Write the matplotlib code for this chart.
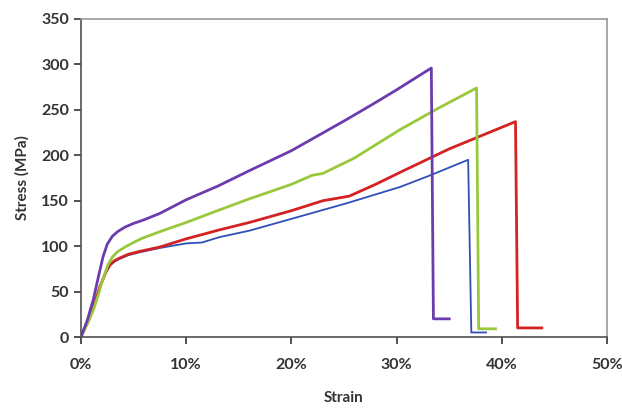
import matplotlib.pyplot as plt
from matplotlib.ticker import FuncFormatter

# strain in %, stress in MPa
purple_strain = [0, 0.6, 1.2, 1.7, 2.1, 2.5, 3.0, 3.5, 4.2, 5, 6, 7.5, 10, 13, 16, 20, 25.2, 28, 30, 33.3, 33.5, 35.0]
purple_stress = [0, 18, 42, 68, 88, 102, 111, 116, 121, 125, 129, 136, 151, 166, 183, 205, 239, 258, 272, 296, 20, 20]

green_strain = [0, 0.6, 1.2, 1.7, 2.1, 2.6, 3.0, 3.5, 4.2, 5, 5.9, 8, 10, 13.2, 16, 20, 22, 23, 26, 30.3, 34, 37.6, 37.8, 39.4]
green_stress = [0, 14, 30, 48, 64, 80, 88, 94, 99, 104, 109, 118, 126, 140, 152, 168, 178, 180, 197, 228, 252, 274, 9, 9]

red_strain = [0, 0.6, 1.2, 1.8, 2.4, 2.8, 3.2, 3.7, 4.5, 5.5, 7.5, 10, 13.2, 16, 20, 23, 24.5, 25.5, 28, 30.3, 35, 41.3, 41.5, 43.8]
red_stress = [0, 15, 33, 55, 72, 80, 84, 87, 91, 94, 99, 108, 118, 126, 139, 150, 153, 155, 168, 181, 207, 237, 10, 10]

blue_strain = [0, 0.6, 1.2, 1.8, 2.4, 2.8, 3.2, 3.7, 4.5, 5.5, 7.5, 10, 11.5, 13.2, 16, 20, 25.2, 30.3, 33, 36.8, 37.1, 38.5]
blue_stress = [0, 15, 33, 55, 72, 79, 83, 86, 90, 93, 98, 103, 104, 110, 117, 130, 147, 165, 177, 195, 5, 5]

x_ticks = [0, 10, 20, 30, 40, 50]
y_ticks = [0, 50, 100, 150, 200, 250, 300, 350]

plt.rcParams['font.family'] = ['Lato', 'DejaVu Sans']

fig = plt.figure(figsize=(6.22, 4.12), dpi=100)
ax = fig.add_axes([0.130, 0.182, 0.846, 0.772])

ax.plot(blue_strain, blue_stress, color="#2f4fb8", lw=1.3)
ax.plot(red_strain, red_stress, color="#d42222", lw=2.0)
ax.plot(green_strain, green_stress, color="#98c83c", lw=2.0)
ax.plot(purple_strain, purple_stress, color="#6c3cae", lw=2.0)

ax.set_xlim(0, 50)
ax.set_ylim(0, 350)
ax.set_xticks(x_ticks)
ax.set_yticks(y_ticks)
ax.xaxis.set_major_formatter(FuncFormatter(lambda v, p: f"{v:.0f}%"))

for s in ["left", "bottom"]:
    ax.spines[s].set_color("#505050")
    ax.spines[s].set_linewidth(1.2)
for s in ["top", "right"]:
    ax.spines[s].set_color("#9a9a9a")
    ax.spines[s].set_linewidth(1.2)

ax.tick_params(direction="out", length=5, width=1.4, color="#505050",
               labelsize=11.5, labelcolor="#333333")
ax.tick_params(axis="x", pad=10)
for lab in ax.get_xticklabels() + ax.get_yticklabels():
    lab.set_fontweight("bold")

ax.set_xlabel("Strain", fontsize=11, fontweight="bold", color="#333333", labelpad=14)
ax.set_ylabel("Stress (MPa)", fontsize=11, fontweight="bold", color="#333333", labelpad=8)

fig.savefig("out.png", dpi=100)
